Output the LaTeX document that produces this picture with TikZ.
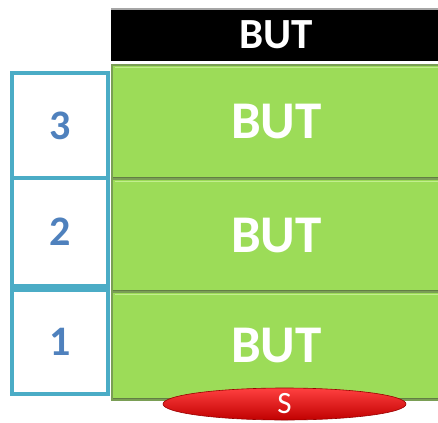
\documentclass[tikz,border=0pt]{standalone}
\usepackage{fontspec}
\setmainfont{Carlito}
\usetikzlibrary{shapes.geometric}
\definecolor{boxgreen}{HTML}{9CDC58}
\definecolor{greenedge}{HTML}{7A9E55}
\definecolor{greenlight}{HTML}{C2EE8E}
\definecolor{frameblue}{HTML}{4BACC6}
\definecolor{numblue}{HTML}{4F81BD}
\definecolor{redtop}{HTML}{FF4040}
\definecolor{redbot}{HTML}{C00000}
\begin{document}
\begin{tikzpicture}[x=1pt,y=-1pt,
  greenbox/.style={draw=greenedge,line width=1.2pt,fill=boxgreen,minimum width=329pt,inner sep=0pt,
    font=\fontsize{53}{53}\selectfont\bfseries,text=white},
  numbox/.style={draw=frameblue,line width=4pt,fill=white,minimum width=96pt,inner sep=0pt,
    font=\fontsize{42}{42}\selectfont\bfseries,text=numblue},
  header/.style={fill=black,minimum width=330pt,minimum height=53pt,inner sep=0pt,
    font=\fontsize{43}{43}\selectfont\bfseries,text=white}]
\useasboundingbox (0,0) rectangle (438,422);
% header
\node[header] (h) at (276,34.5) {\raisebox{-3pt}{BUT}};
\draw[gray!70,line width=1.5pt] ([yshift=-1pt]h.north west) -- ([yshift=-1pt]h.north east);
% green boxes
\node[greenbox,minimum height=114pt] (g3) at (276.5,122) {\raisebox{-3pt}{BUT}};
\node[greenbox,minimum height=113pt] (g2) at (276.5,235.5) {\raisebox{-3pt}{BUT}};
\node[greenbox,minimum height=108pt] (g1) at (276.5,346) {\raisebox{-3pt}{BUT}};
\foreach \g in {g3,g2,g1}{
  \draw[greenlight,line width=1.5pt] ([xshift=4pt,yshift=-3pt]\g.north west) -- ([xshift=-4pt,yshift=-3pt]\g.north east);
  \draw[greenedge!80!black,line width=1pt] ([xshift=2pt,yshift=2pt]\g.south west) -- ([xshift=-2pt,yshift=2pt]\g.south east);
}
% number boxes
\node[numbox,minimum height=105pt] (n3) at (60,125.5) {\raisebox{-4pt}{3}};
\node[numbox,minimum height=108pt] (n2) at (60,232) {\raisebox{-4pt}{2}};
\node[numbox,minimum height=104pt] (n1) at (60,342) {\raisebox{-4pt}{1}};
% red ellipse
\node[ellipse,top color=redtop,bottom color=redbot,draw=redbot!80!black,line width=0.6pt,minimum width=243pt,minimum height=32pt,inner sep=0pt,
  text=white,font=\fontsize{31}{31}\selectfont] (s) at (284.5,404) {\raisebox{-3pt}{S}};
\end{tikzpicture}
\end{document}
